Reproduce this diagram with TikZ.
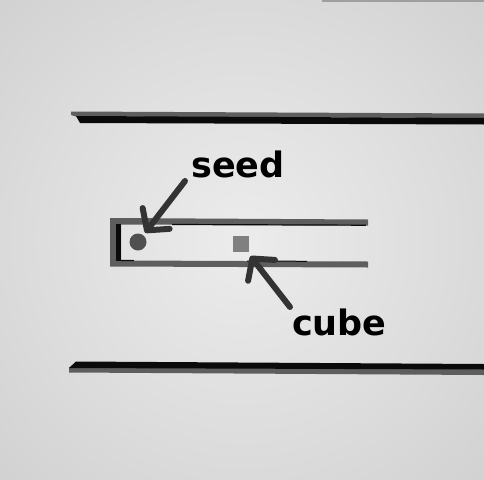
\documentclass[tikz,border=0pt]{standalone}
\usepackage{fontspec}
\setmainfont{DejaVu Sans}
\usetikzlibrary{arrows.meta}
\definecolor{bargray}{HTML}{5E5E5E}
\definecolor{barblack}{HTML}{0A0A0A}
\definecolor{arrowgray}{HTML}{333333}
\definecolor{seedgray}{HTML}{505050}
\definecolor{cubegray}{HTML}{808080}
\definecolor{bgA}{HTML}{ECECEC}
\definecolor{bgB}{HTML}{DCDCDC}
\definecolor{bgC}{HTML}{C6C6C6}
\definecolor{bgD}{HTML}{B8B8B8}
\pgfdeclareradialshading{bgshade}{\pgfpoint{0bp}{0bp}}{color(0bp)=(bgA); color(22bp)=(bgB); color(50bp)=(bgC); color(72bp)=(bgD)}
\tikzset{
  label/.style={font=\fontsize{35}{38}\selectfont\bfseries, text=black, inner sep=0pt},
  pointer/.style={draw=arrowgray, line width=6pt, line cap=round,
    -{Straight Barb[length=15pt,width=34pt,round]}},
  channel/.style={fill=bargray, draw=none},
}
\begin{document}
\begin{tikzpicture}[x=1pt,y=-1pt]
\useasboundingbox (0,0) rectangle (484,479);
\shade[shading=bgshade] (0,0) rectangle (484,479);
\draw[draw=gray!75, line width=2pt] (322,0.5) -- (484,0.5);
% long bars
\fill[bargray] (71,111.5) -- (484,113.5) -- (484,118) -- (76,116.5) -- (71,115) -- cycle;
\fill[barblack] (76,116) -- (484,118) -- (484,124.5) -- (80,123) -- cycle;
\fill[bargray] (69,367) -- (484,369) -- (484,375) -- (69,372.5) -- cycle;
\fill[barblack] (76,361.5) -- (484,364) -- (484,369.5) -- (69,368) -- cycle;
% channel
\fill[channel] (110,218) -- (368,219.5) -- (368,225.5) -- (121,224.5) -- (121,260.5) -- (368,261.5) -- (368,267.5) -- (110,266.5) -- cycle;
\fill[barblack] (116,223.5) rectangle (121,261);
\draw[barblack, line width=1.2pt] (121,260.5) -- (134,260.6);
\draw[barblack, line width=1.2pt] (172,224.5) -- (366,225.2);
\draw[barblack, line width=1pt] (247,261) -- (307,261.3);
% objects
\node[circle, fill=seedgray, minimum size=17pt, inner sep=0pt] (seed) at (138,242) {};
\node[rectangle, fill=cubegray, minimum size=16pt, inner sep=0pt] (cube) at (241,244) {};
% labels
\node[label, anchor=base west] (seedlabel) at (191,177) {seed};
\node[label, anchor=base west] (cubelabel) at (292,335) {cube};
\coordinate (seedtail) at (185,181);
\coordinate (cubetail) at (290,307);
\draw[pointer, shorten >=3pt] (seedtail) -- (seed);
\draw[pointer, shorten >=5pt] (cubetail) -- (cube);
\end{tikzpicture}
\end{document}
